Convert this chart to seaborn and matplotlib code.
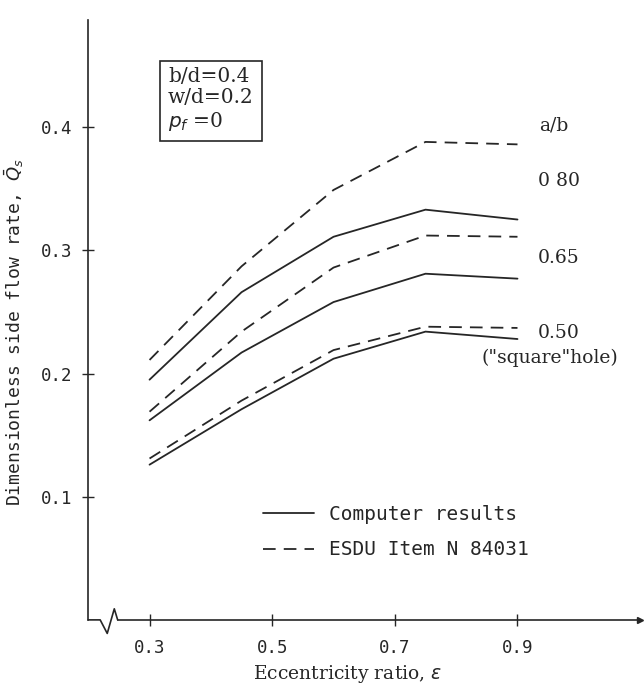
import pandas as pd
import seaborn as sns
import matplotlib.pyplot as plt

# eccentricity ratio
ecc = [0.3, 0.45, 0.6, 0.75, 0.9]

# a/b = 0.80
comp_080 = [0.195, 0.266, 0.311, 0.333, 0.325]
esdu_080 = [0.211, 0.287, 0.349, 0.388, 0.386]
# a/b = 0.65
comp_065 = [0.162, 0.217, 0.258, 0.281, 0.277]
esdu_065 = [0.169, 0.234, 0.286, 0.312, 0.311]
# a/b = 0.50 (square hole)
comp_050 = [0.126, 0.171, 0.212, 0.234, 0.228]
esdu_050 = [0.131, 0.178, 0.219, 0.238, 0.237]

ratio_labels = ['0.80', '0.65', '0.50']
sources = ['Computer results', 'ESDU Item N 84031']

x_ticks = [0.3, 0.5, 0.7, 0.9]
y_ticks = [0.1, 0.2, 0.3, 0.4]

rows = []
for ratio, comp, esdu in zip(ratio_labels, [comp_080, comp_065, comp_050], [esdu_080, esdu_065, esdu_050]):
    for e, c, s in zip(ecc, comp, esdu):
        rows.append({'ecc': e, 'Qs': c, 'ratio': ratio, 'source': sources[0]})
        rows.append({'ecc': e, 'Qs': s, 'ratio': ratio, 'source': sources[1]})
df = pd.DataFrame(rows)

sns.set_style('ticks')
plt.rcParams['font.family'] = ['DejaVu Sans Mono']
ink = '#262626'
mono = 'DejaVu Sans Mono'
serif = 'DejaVu Serif'

fig = plt.figure(figsize=(6.44, 6.88), dpi=100)
ax = fig.add_axes([0.137, 0.099, 0.857, 0.872])

for ratio in ratio_labels:
    for src, ls in zip(sources, ['-', (0, (7, 4.5))]):
        sub = df[(df['ratio'] == ratio) & (df['source'] == src)]
        sns.lineplot(data=sub, x='ecc', y='Qs', color=ink, linewidth=1.3,
                     linestyle=ls, ax=ax,
                     label=src if ratio == ratio_labels[0] else None)

xmin, xmax = 0.2, 1.1
ax.set_xlim(xmin, xmax)
ax.set_ylim(0, 0.487)
ax.set_xticks(x_ticks)
ax.set_xticklabels([f'{v:.1f}' for v in x_ticks])
ax.set_yticks(y_ticks)
ax.set_yticklabels([f'{v:.1f}' for v in y_ticks])
ax.tick_params(direction='inout', length=9, width=1, colors=ink,
               labelsize=12.5, pad=9)
ax.tick_params(axis='y', pad=7)

for side in ['top', 'right']:
    ax.spines[side].set_visible(False)
ax.spines['left'].set_color(ink)
ax.spines['bottom'].set_color(ink)
ax.spines['left'].set_linewidth(1.2)
ax.spines['bottom'].set_linewidth(1.2)

# axis break near the origin
ax.spines['bottom'].set_bounds(xmin + 0.048, xmax)
bx = [xmin, xmin + 0.0195, xmin + 0.031, xmin + 0.0425, xmin + 0.048]
by = [0, 0, -0.011, 0.009, 0]
ax.plot(bx, by, color=ink, linewidth=1.2, clip_on=False)
ax.plot([xmax], [0], marker='>', color=ink, markersize=5, clip_on=False)

ax.set_xlabel('Eccentricity ratio, $\\varepsilon$', fontsize=13.5, family=serif,
              color=ink)
ax.xaxis.set_label_coords(0.47, -0.072)
ax.set_ylabel('Dimensionless side flow rate, $\\bar{Q}_s$', fontsize=13, color=ink)
ax.yaxis.set_label_coords(-0.112, 0.48)

ax.text(0.33, 0.449, 'b/d=0.4\nw/d=0.2\n$p_f$ =0', fontsize=14.5, family=serif,
        color=ink, va='top', ha='left', linespacing=1.15,
        bbox=dict(boxstyle='square,pad=0.4', fc='white', ec=ink, lw=1.2))

ax.text(0.935, 0.401, 'a/b', fontsize=13.5, family=serif, color=ink, va='center')
ax.text(0.933, 0.356, '0 80', fontsize=13.5, family=serif, color=ink, va='center')
ax.text(0.933, 0.294, '0.65', fontsize=13.5, family=serif, color=ink, va='center')
ax.text(0.933, 0.233, '0.50', fontsize=13.5, family=serif, color=ink, va='center')
ax.text(0.842, 0.213, '("square"hole)', fontsize=13.5, family=serif, color=ink, va='center')

leg = ax.legend(loc='upper left', bbox_to_anchor=(0.285, 0.221), frameon=False,
                prop={'family': mono, 'size': 14}, handlelength=2.6,
                labelspacing=0.85, handletextpad=0.8)
for t in leg.get_texts():
    t.set_color(ink)

fig.savefig('out.png', dpi=100)
